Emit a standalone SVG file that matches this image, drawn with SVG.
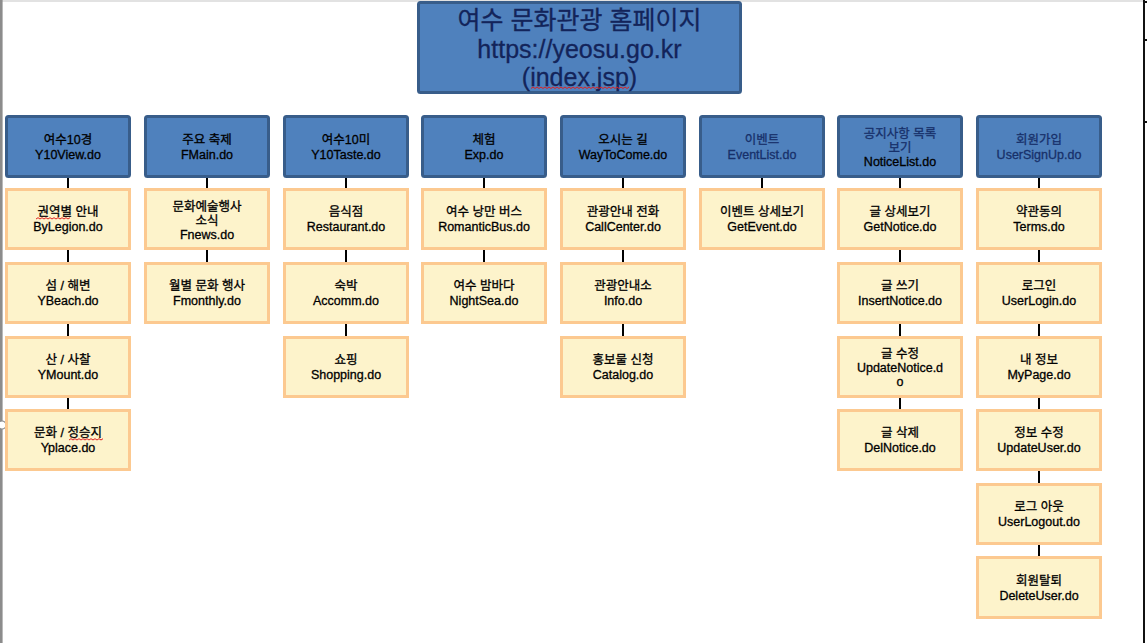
<svg xmlns="http://www.w3.org/2000/svg" width="1147" height="643" viewBox="0 0 1147 643">
<style>
.hdr{fill:#4f81bd;stroke:#385d8a;stroke-width:3}
.chd{fill:#fdf3cb;stroke:#fcc990;stroke-width:3}
.top{fill:#4f81bd;stroke:#385d8a;stroke-width:3}
text{font-family:"Liberation Sans","Noto Sans CJK KR",sans-serif;font-size:12.5px;text-anchor:middle;fill:#000;stroke:#000;stroke-width:0.3}
.tt{font-size:25px;fill:#13245a;stroke:#13245a;stroke-width:0.3}
.nv{fill:#17306a;stroke:#17306a}
.cn{stroke:#000;stroke-width:2;fill:none}
.sq{stroke:#e02020;stroke-width:1;fill:none}
</style>
<rect x="0" y="0" width="1147" height="643" fill="#fff"/>
<line x1="0" y1="1" x2="1143" y2="1" stroke="#e2e2e2" stroke-width="2"/>
<line x1="1.3" y1="0" x2="1.3" y2="643" stroke="#8c8c8c" stroke-width="2.6"/>
<line x1="1144" y1="0" x2="1144" y2="643" stroke="#111" stroke-width="2"/>
<line x1="1144" y1="2" x2="1147" y2="2" stroke="#111" stroke-width="2"/>
<line x1="1144" y1="40" x2="1147" y2="40" stroke="#111" stroke-width="2"/>
<line x1="1144" y1="122" x2="1147" y2="122" stroke="#111" stroke-width="2"/>
<circle cx="2" cy="425" r="4" fill="#fff" stroke="#8c8c8c" stroke-width="1.2"/>

<g id="connectors">
<line class="cn" x1="68" y1="177" x2="68" y2="410"/>
<line class="cn" x1="207" y1="177" x2="207" y2="263"/>
<line class="cn" x1="346" y1="177" x2="346" y2="337"/>
<line class="cn" x1="484" y1="177" x2="484" y2="263"/>
<line class="cn" x1="623" y1="177" x2="623" y2="337"/>
<line class="cn" x1="762" y1="177" x2="762" y2="189"/>
<line class="cn" x1="900" y1="177" x2="900" y2="410"/>
<line class="cn" x1="1039" y1="177" x2="1039" y2="557"/>
</g>

<g id="root">
<rect class="top" x="418.5" y="2.5" width="322" height="90" rx="2"/>
<text class="tt" x="579.5" y="29">여수 문화관광 홈페이지</text>
<text class="tt" x="579.5" y="58">https://yeosu.go.kr</text>
<text class="tt" x="579.5" y="86">(index.jsp)</text>
<path class="sq" d="M531 88.5 l2 -1.5 l2 1.5 l2 -1.5 l2 1.5 l2 -1.5 l2 1.5 l2 -1.5 l2 1.5 l2 -1.5 l2 1.5 l2 -1.5 l2 1.5 l2 -1.5 l2 1.5 l2 -1.5 l2 1.5 l2 -1.5 l2 1.5 l2 -1.5 l2 1.5 l2 -1.5 l2 1.5 l2 -1.5 l2 1.5 l2 -1.5 l2 1.5 l2 -1.5 l2 1.5 l2 -1.5 l2 1.5 l2 -1.5 l2 1.5 l2 -1.5 l2 1.5 l2 -1.5 l2 1.5 l2 -1.5 l2 1.5 l2 -1.5 l2 1.5 l2 -1.5 l2 1.5 l2 -1.5 l2 1.5 l2 -1.5 l2 1.5 l2 -1.5 l2 1.5 l2 -1.5"/>
</g>

<!-- Column 1 -->
<g id="h1"><rect class="hdr" x="6.5" y="116.5" width="123" height="60" rx="2"/><text x="68" y="143.5">여수10경</text><text x="68" y="158.5">Y10View.do</text></g>
<g id="c1_1"><rect class="chd" x="6.5" y="189.5" width="123" height="59"/><text x="68" y="216">권역별 안내</text><text x="68" y="231">ByLegion.do</text><path class="sq" d="M36 219 l2 -1.3 l2 1.3 l2 -1.3 l2 1.3 l2 -1.3 l2 1.3 l2 -1.3 l2 1.3 l2 -1.3 l2 1.3 l2 -1.3 l2 1.3 l2 -1.3 l2 1.3 l2 -1.3 l2 1.3 l2 -1.3"/></g>
<g id="c1_2"><rect class="chd" x="6.5" y="263.5" width="123" height="59"/><text x="68" y="290">섬 / 해변</text><text x="68" y="305">YBeach.do</text></g>
<g id="c1_3"><rect class="chd" x="6.5" y="337.5" width="123" height="59"/><text x="68" y="364">산 / 사찰</text><text x="68" y="379">YMount.do</text></g>
<g id="c1_4"><rect class="chd" x="6.5" y="410.5" width="123" height="59"/><text x="68" y="437">문화 / 정승지</text><text x="68" y="452">Yplace.do</text><path class="sq" d="M69 440 l2 -1.3 l2 1.3 l2 -1.3 l2 1.3 l2 -1.3 l2 1.3 l2 -1.3 l2 1.3 l2 -1.3 l2 1.3 l2 -1.3 l2 1.3 l2 -1.3 l2 1.3 l2 -1.3 l2 1.3 l2 -1.3"/></g>

<!-- Column 2 -->
<g id="h2"><rect class="hdr" x="145.5" y="116.5" width="123" height="60" rx="2"/><text x="207" y="143.5">주요 축제</text><text x="207" y="158.5">FMain.do</text></g>
<g id="c2_1"><rect class="chd" x="145.5" y="189.5" width="123" height="59"/><text x="207" y="211">문화예술행사</text><text x="207" y="225">소식</text><text x="207" y="239">Fnews.do</text></g>
<g id="c2_2"><rect class="chd" x="145.5" y="263.5" width="123" height="59"/><text x="207" y="290">월별 문화 행사</text><text x="207" y="305">Fmonthly.do</text></g>

<!-- Column 3 -->
<g id="h3"><rect class="hdr" x="284.5" y="116.5" width="123" height="60" rx="2"/><text x="346" y="143.5">여수10미</text><text x="346" y="158.5">Y10Taste.do</text></g>
<g id="c3_1"><rect class="chd" x="284.5" y="189.5" width="123" height="59"/><text x="346" y="216">음식점</text><text x="346" y="231">Restaurant.do</text></g>
<g id="c3_2"><rect class="chd" x="284.5" y="263.5" width="123" height="59"/><text x="346" y="290">숙박</text><text x="346" y="305">Accomm.do</text></g>
<g id="c3_3"><rect class="chd" x="284.5" y="337.5" width="123" height="59"/><text x="346" y="364">쇼핑</text><text x="346" y="379">Shopping.do</text></g>

<!-- Column 4 -->
<g id="h4"><rect class="hdr" x="422.5" y="116.5" width="123" height="60" rx="2"/><text x="484" y="143.5">체험</text><text x="484" y="158.5">Exp.do</text></g>
<g id="c4_1"><rect class="chd" x="422.5" y="189.5" width="123" height="59"/><text x="484" y="216">여수 낭만 버스</text><text x="484" y="231">RomanticBus.do</text></g>
<g id="c4_2"><rect class="chd" x="422.5" y="263.5" width="123" height="59"/><text x="484" y="290">여수 밤바다</text><text x="484" y="305">NightSea.do</text></g>

<!-- Column 5 -->
<g id="h5"><rect class="hdr" x="561.5" y="116.5" width="123" height="60" rx="2"/><text x="623" y="143.5">오시는 길</text><text x="623" y="158.5">WayToCome.do</text></g>
<g id="c5_1"><rect class="chd" x="561.5" y="189.5" width="123" height="59"/><text x="623" y="216">관광안내 전화</text><text x="623" y="231">CallCenter.do</text></g>
<g id="c5_2"><rect class="chd" x="561.5" y="263.5" width="123" height="59"/><text x="623" y="290">관광안내소</text><text x="623" y="305">Info.do</text></g>
<g id="c5_3"><rect class="chd" x="561.5" y="337.5" width="123" height="59"/><text x="623" y="364">홍보물 신청</text><text x="623" y="379">Catalog.do</text></g>

<!-- Column 6 -->
<g id="h6"><rect class="hdr" x="700.5" y="116.5" width="123" height="60" rx="2"/><text class="nv" x="762" y="143.5">이벤트</text><text class="nv" x="762" y="158.5">EventList.do</text></g>
<g id="c6_1"><rect class="chd" x="700.5" y="189.5" width="123" height="59"/><text x="762" y="216">이벤트 상세보기</text><text x="762" y="231">GetEvent.do</text></g>

<!-- Column 7 -->
<g id="h7"><rect class="hdr" x="838.5" y="116.5" width="123" height="60" rx="2"/><text class="nv" x="900" y="137.5">공지사항 목록</text><text class="nv" x="900" y="151.5">보기</text><text x="900" y="165.5">NoticeList.do</text></g>
<g id="c7_1"><rect class="chd" x="838.5" y="189.5" width="123" height="59"/><text x="900" y="216">글 상세보기</text><text x="900" y="231">GetNotice.do</text></g>
<g id="c7_2"><rect class="chd" x="838.5" y="263.5" width="123" height="59"/><text x="900" y="290">글 쓰기</text><text x="900" y="305">InsertNotice.do</text></g>
<g id="c7_3"><rect class="chd" x="838.5" y="337.5" width="123" height="59"/><text x="900" y="357.5">글 수정</text><text x="900" y="371.5">UpdateNotice.d</text><text x="900" y="385.5">o</text></g>
<g id="c7_4"><rect class="chd" x="838.5" y="410.5" width="123" height="59"/><text x="900" y="437">글 삭제</text><text x="900" y="452">DelNotice.do</text></g>

<!-- Column 8 -->
<g id="h8"><rect class="hdr" x="977.5" y="116.5" width="123" height="60" rx="2"/><text class="nv" x="1039" y="143.5">회원가입</text><text class="nv" x="1039" y="158.5">UserSignUp.do</text></g>
<g id="c8_1"><rect class="chd" x="977.5" y="189.5" width="123" height="59"/><text x="1039" y="216">약관동의</text><text x="1039" y="231">Terms.do</text></g>
<g id="c8_2"><rect class="chd" x="977.5" y="263.5" width="123" height="59"/><text x="1039" y="290">로그인</text><text x="1039" y="305">UserLogin.do</text></g>
<g id="c8_3"><rect class="chd" x="977.5" y="337.5" width="123" height="59"/><text x="1039" y="364">내 정보</text><text x="1039" y="379">MyPage.do</text></g>
<g id="c8_4"><rect class="chd" x="977.5" y="410.5" width="123" height="59"/><text x="1039" y="437">정보 수정</text><text x="1039" y="452">UpdateUser.do</text></g>
<g id="c8_5"><rect class="chd" x="977.5" y="484.5" width="123" height="59"/><text x="1039" y="511">로그 아웃</text><text x="1039" y="526">UserLogout.do</text></g>
<g id="c8_6"><rect class="chd" x="977.5" y="557.5" width="123" height="60"/><text x="1039" y="584.5">회원탈퇴</text><text x="1039" y="599.5">DeleteUser.do</text></g>
</svg>
